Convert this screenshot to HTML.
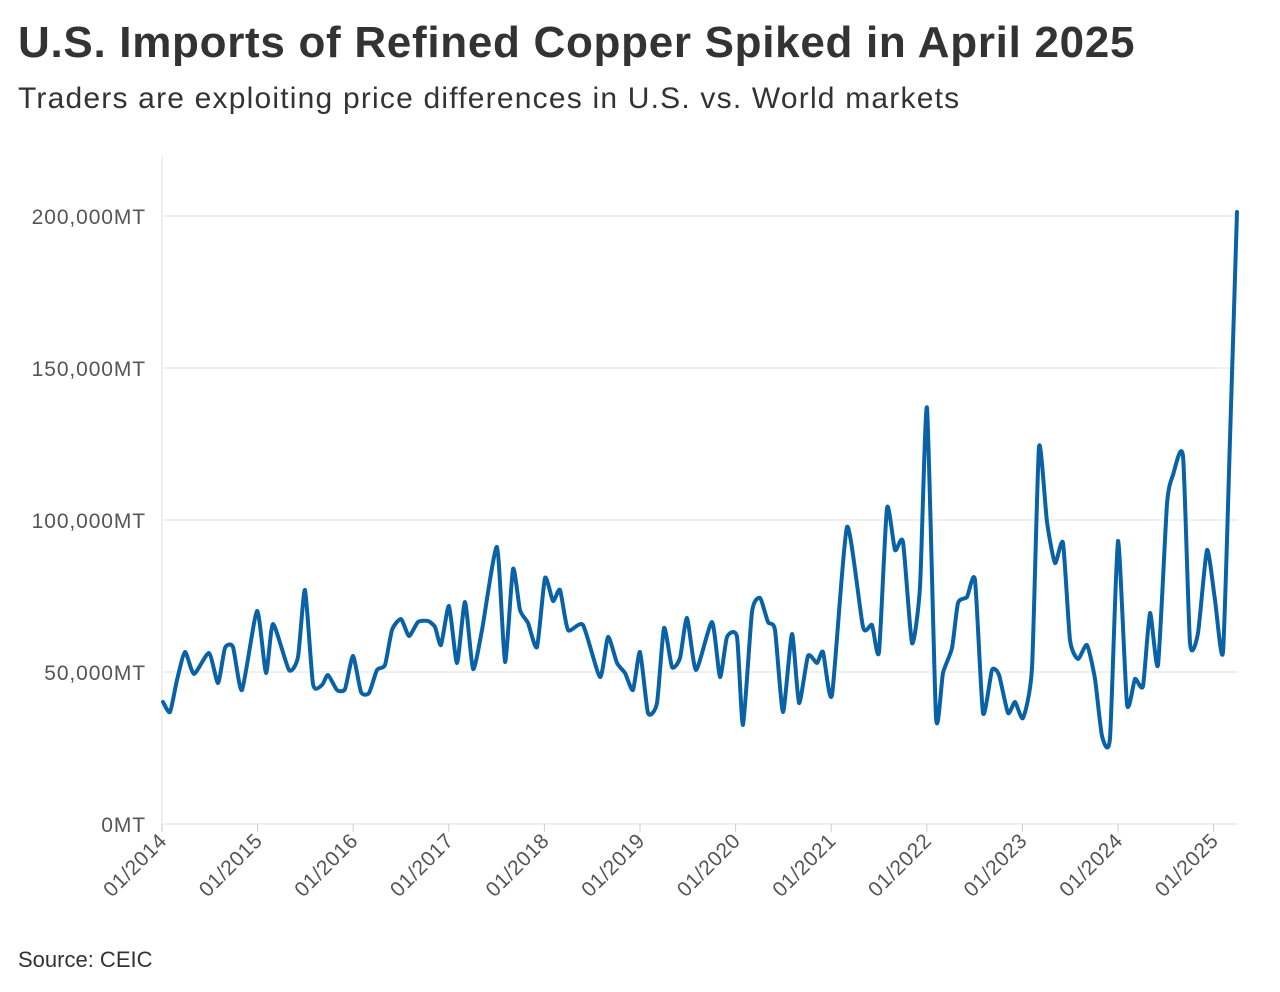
<!DOCTYPE html>
<html><head><meta charset="utf-8"><style>
body{margin:0;background:#fff;width:1280px;height:992px;overflow:hidden;font-family:"Liberation Sans",sans-serif;color:#333}
.t{position:absolute;left:18px;top:18px;font-size:44px;font-weight:bold;letter-spacing:0.7px;color:#333}
.s{position:absolute;left:18px;top:82px;font-size:30px;letter-spacing:1.2px;color:#333}
.src{position:absolute;left:18px;top:947px;font-size:22px;color:#333}
svg{position:absolute;left:0;top:0}
</style></head><body>
<div class="t">U.S. Imports of Refined Copper Spiked in April 2025</div>
<div class="s">Traders are exploiting price differences in U.S. vs. World markets</div>
<div class="src">Source: CEIC</div>
<svg width="1280" height="992" id="sv">
<g stroke="#e6e6e6" stroke-width="1.3">
<line x1="162" x2="1238" y1="216" y2="216"/><line x1="162" x2="1238" y1="368" y2="368"/>
<line x1="162" x2="1238" y1="520" y2="520"/><line x1="162" x2="1238" y1="672" y2="672"/>
<line x1="162" x2="1238" y1="824" y2="824"/>
<line x1="162" x2="162" y1="157" y2="832"/>
</g>
<g font-size="21" fill="#555" text-anchor="end" font-family="Liberation Sans,sans-serif" letter-spacing="0.9">
<text x="146" y="224">200,000MT</text><text x="146" y="376">150,000MT</text>
<text x="146" y="528">100,000MT</text><text x="146" y="680">50,000MT</text><text x="146" y="832">0MT</text>
</g>
<g id="xl" font-size="21" fill="#555" text-anchor="end" font-family="Liberation Sans,sans-serif" letter-spacing="0.5"></g>
<path id="ln" fill="none" stroke="#0a62a6" stroke-width="4" stroke-linejoin="round" stroke-linecap="round"/>
</svg>
<script>
var xl=document.getElementById('xl'),h='';
for(var i=0;i<12;i++){var x=162+i*95.6;h+='<line x1="'+x+'" x2="'+x+'" y1="824" y2="832" stroke="#ccc"/><text transform="translate('+(x+6)+',842) rotate(-45)">01/'+(2014+i)+'</text>';}
xl.innerHTML=h;
var p=[[163,702],[170,712],[177,680],[185,652],[194,674],[209,653],[218,683],[225,648],[233,647],[242,690],[257,611],[266,673],[273,624],[289,670],[298,657],[305,590],[313,684],[322,685],[328,675],[337,690],[345,689],[353,656],[361,692],[369,693],[377,670],[385,665],[392,630],[401,619],[409,636],[418,622],[428,621],[435,627],[441,645],[449,606],[457,663],[465,602],[473,669],[482,630],[497,547],[505,662],[513,569],[520,610],[528,623],[537,647],[545,578],[553,601],[560,590],[568,630],[583,625],[600,677],[608,637],[617,663],[625,673],[633,690],[640,652],[648,713],[657,703],[664,628],[672,667],[680,658],[687,618],[696,670],[712,622],[720,677],[727,637],[737,637],[743,725],[752,612],[760,598],[768,622],[775,630],[783,712],[792,634],[799,703],[808,656],[817,663],[823,652],[832,695],[847,527],[863,627],[872,625],[879,652],[887,508],[895,550],[903,542],[912,643],[920,587],[927,408],[936,717],[943,673],[952,648],[958,603],[967,597],[975,580],[983,713],[992,670],[999,675],[1008,713],[1015,702],[1023,718],[1032,668],[1039,447],[1047,522],[1055,563],[1063,543],[1070,640],[1078,659],[1087,645],[1095,679],[1102,736],[1110,738],[1118,541],[1127,704],[1135,679],[1143,686],[1150,613],[1158,665],[1167,504],[1173,475],[1183,456],[1190,643],[1198,633],[1207,550],[1215,600],[1223,652],[1230,439],[1237,212]];
var d='M'+p[0][0]+','+p[0][1];
for(var i=0;i<p.length-1;i++){var a=p[Math.max(0,i-1)],b=p[i],c=p[i+1],e=p[Math.min(p.length-1,i+2)],k=0.3/3;
d+=' C'+(b[0]+(c[0]-a[0])*k)+','+(b[1]+(c[1]-a[1])*k)+' '+(c[0]-(e[0]-b[0])*k)+','+(c[1]-(e[1]-b[1])*k)+' '+c[0]+','+c[1];}
document.getElementById('ln').setAttribute('d',d);
</script>
</body></html>
